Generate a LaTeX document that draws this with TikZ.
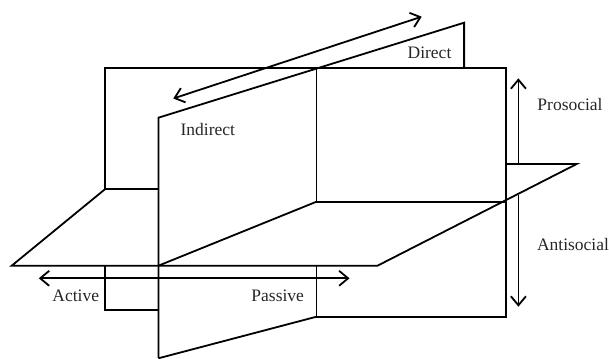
\documentclass[tikz,border=0pt]{standalone}
\usepackage{fontspec}
\setmainfont{Liberation Serif}
\usetikzlibrary{arrows.meta}
\tikzset{
  edge/.style={line width=1.8pt, line join=miter},
  dimarrow/.style={line width=1.8pt, arrows={Straight Barb[length=9pt,width=15pt,line width=1.8pt]-Straight Barb[length=9pt,width=15pt,line width=1.8pt]}},
  uparrow/.style={line width=1.8pt, arrows={-Straight Barb[length=9pt,width=15pt,line width=1.8pt]}},
  lbl/.style={font=\fontsize{17.5}{20}\selectfont, inner sep=0pt, text=black!85}
}
\begin{document}
\begin{tikzpicture}[x=1pt,y=-1pt]
\useasboundingbox (0,0) rectangle (609,358);
% back (vertical, frontal) plane
\draw[edge] (104.9,189.3) -- (104.9,67.7) -- (505.6,67.7) -- (505.6,316.7) -- (316.5,316.7) -- (316.5,265.7);
\draw[edge] (104.9,189.3) -- (158.4,189.3);
\draw[edge] (104.9,265.7) -- (104.9,310) -- (158.4,310);
% slanted vertical plane (direct / indirect)
\draw[edge] (158.4,358) -- (158.4,117.7) -- (464.1,22.7) -- (464.1,67.7);
\draw[edge] (316.5,67.7) -- (316.5,201.7) -- (505.6,201.7);
\draw[edge] (158.4,265.7) -- (316.5,201.7);
\draw[edge] (158.4,358.3) -- (316.5,316.7);
% horizontal plane
\draw[edge] (104.9,189.3) -- (11.7,265.7) -- (377.5,265.7) -- (576.7,164) -- (505.6,164);
% arrow end points
\coordinate (ind) at (173.3,98.5);
\coordinate (dir) at (421.7,16.7);
\coordinate (act) at (38.8,278.3);
\coordinate (pas) at (349.5,278.3);
\coordinate (pro0) at (518.4,164);
\coordinate (pro) at (518.4,78.3);
\coordinate (anti0) at (518.4,195);
\coordinate (anti) at (518.4,306.7);
\draw[dimarrow] (ind) -- (dir);
\draw[dimarrow] (act) -- (pas);
\draw[uparrow] (pro0) -- (pro);
\draw[uparrow] (anti0) -- (anti);
% labels
\node[lbl] (tdirect) at (429.5,53) {Direct};
\node[lbl] (tindirect) at (207.8,130) {Indirect};
\node[lbl] (tpro) at (570,105) {Prosocial};
\node[lbl] (tanti) at (573,245) {Antisocial};
\node[lbl] (tact) at (75.7,295.7) {Active};
\node[lbl] (tpas) at (277.7,295.7) {Passive};
\end{tikzpicture}
\end{document}
